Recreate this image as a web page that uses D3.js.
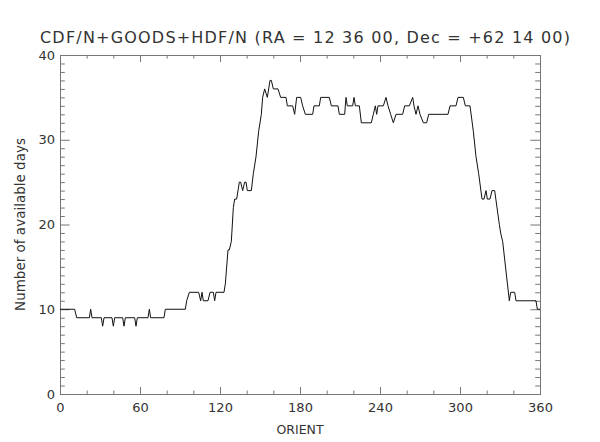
<!DOCTYPE html>
<html>
<head>
<meta charset="utf-8">
<script src="https://cdn.jsdelivr.net/npm/d3@7"></script>
<style>
  body { margin: 0; background: #fff; }
  text { font-family: "DejaVu Sans", sans-serif; fill: #333; }
</style>
</head>
<body>
<div id="chart"></div>
<script>
// data: orient (deg) vs number of available days
const orient = [0, 11, 12.5, 22, 23, 24, 31, 32, 33, 39, 40, 41, 47, 48, 49, 56, 57, 58, 66, 67, 68, 78, 79, 94, 95, 97,
  104, 105.5, 106.5, 107.5, 111, 112.5, 115, 116, 117, 123, 124, 126, 127, 128.5, 130, 131, 132.5, 134.5, 135.5, 137,
  138.5, 139.5, 140.5, 143.5, 145, 147, 149, 151, 152, 153.5, 155.5, 157.5, 158.5, 160, 163.5, 165.5, 169.5, 170.5,
  174.5, 176, 177.5, 180.5, 182, 184, 189.5, 190.5, 194.5, 195.5, 202, 203.5, 208.5, 209.5, 213.5, 214.5, 215.5, 219.5,
  220.5, 221.5, 224.5, 226, 233.5, 235, 236.5, 237.5, 238.5, 242.5, 244.5, 246, 248, 250, 252, 257, 258.5, 262, 264.5,
  265.5, 267, 268.5, 270, 272.5, 275, 276.5, 291, 292.5, 297, 298.5, 302.5, 304, 307.5, 310, 312, 314, 316.5, 318,
  319.5, 320.5, 322.5, 324, 326, 329.5, 330.5, 332, 337, 338, 341, 342, 357, 358, 360];
const days = [10, 10, 9, 9, 10, 9, 9, 8, 9, 9, 8, 9, 9, 8, 9, 9, 8, 9, 9, 10, 9, 9, 10, 10, 11, 12,
  12, 11, 12, 11, 11, 12, 12, 11, 12, 12, 13, 17, 17, 18, 22, 23, 23, 25, 25, 24,
  25, 25, 24, 24, 26, 28, 31, 33, 35, 36, 35, 37, 37, 36, 36, 35, 35, 34,
  34, 33, 35, 35, 34, 33, 33, 34, 34, 35, 35, 34, 34, 33, 33, 35, 34, 34,
  35, 34, 34, 32, 32, 33, 34, 33, 34, 34, 35, 34, 33, 32, 33, 33, 34, 34, 35,
  34, 33, 34, 33, 32, 32, 33, 33, 34, 34, 35, 35, 34, 34, 31, 28, 26, 23, 23,
  24, 23, 23, 24, 24, 20, 19, 18, 11, 12, 12, 11, 11, 10, 10];

const xMajor = [0, 60, 120, 180, 240, 300, 360];
const xMinor = [20, 40, 80, 100, 140, 160, 200, 220, 260, 280, 320, 340];
const yMajor = [0, 10, 20, 30, 40];
const yMinor = d3.range(0, 41).filter(d => d % 10 !== 0);

const title = "CDF/N+GOODS+HDF/N (RA = 12 36 00, Dec = +62 14 00)";

const svgWidth = 600, svgHeight = 442;
const plotLeft = 60, plotRight = 540, plotTop = 55, plotBottom = 394;

const svg = d3.select("#chart").append("svg")
  .attr("width", svgWidth)
  .attr("height", svgHeight);

const x = d3.scaleLinear().domain([0, 360]).range([plotLeft, plotRight]);
const y = d3.scaleLinear().domain([0, 40]).range([plotBottom, plotTop]);

const axisColor = "#777";
const xLen = 7, yLen = 9.6;

function styleAxis(g) {
  g.select(".domain").attr("stroke", axisColor);
  g.selectAll(".tick line").attr("stroke", axisColor);
  g.selectAll("text").attr("font-size", 13).attr("fill", "#333")
    .attr("font-family", '"DejaVu Sans", sans-serif');
}

// bottom axis
svg.append("g").attr("transform", `translate(0,${plotBottom})`)
  .call(d3.axisBottom(x).tickValues(xMajor).tickSizeInner(-xLen).tickSizeOuter(0).tickPadding(9))
  .call(styleAxis);
svg.append("g").attr("transform", `translate(0,${plotBottom})`)
  .call(d3.axisBottom(x).tickValues(xMinor).tickSize(-xLen / 2).tickFormat(""))
  .call(styleAxis);
// top axis
svg.append("g").attr("transform", `translate(0,${plotTop})`)
  .call(d3.axisTop(x).tickValues(xMajor).tickSizeInner(-xLen).tickSizeOuter(0).tickFormat(""))
  .call(styleAxis);
svg.append("g").attr("transform", `translate(0,${plotTop})`)
  .call(d3.axisTop(x).tickValues(xMinor).tickSize(-xLen / 2).tickFormat(""))
  .call(styleAxis);
// left axis
svg.append("g").attr("transform", `translate(${plotLeft},0)`)
  .call(d3.axisLeft(y).tickValues(yMajor).tickSizeInner(-yLen).tickSizeOuter(0).tickPadding(5))
  .call(styleAxis);
svg.append("g").attr("transform", `translate(${plotLeft},0)`)
  .call(d3.axisLeft(y).tickValues(yMinor).tickSize(-yLen / 2).tickFormat(""))
  .call(styleAxis);
// right axis
svg.append("g").attr("transform", `translate(${plotRight},0)`)
  .call(d3.axisRight(y).tickValues(yMajor).tickSizeInner(-yLen).tickSizeOuter(0).tickFormat(""))
  .call(styleAxis);
svg.append("g").attr("transform", `translate(${plotRight},0)`)
  .call(d3.axisRight(y).tickValues(yMinor).tickSize(-yLen / 2).tickFormat(""))
  .call(styleAxis);

// curve
const pts = orient.map((o, i) => [o, days[i]]);
svg.append("path")
  .datum(pts)
  .attr("fill", "none")
  .attr("stroke", "#111")
  .attr("stroke-width", 1)
  .attr("d", d3.line().x(d => x(d[0])).y(d => y(d[1])));

// titles
svg.append("text")
  .attr("x", 305).attr("y", 43)
  .attr("text-anchor", "middle")
  .attr("font-size", 16)
  .attr("textLength", 530)
  .text(title);

svg.append("text")
  .attr("x", 300).attr("y", 434)
  .attr("text-anchor", "middle")
  .attr("font-size", 12.5)
  .text("ORIENT");

svg.append("text")
  .attr("transform", `translate(25,${(plotTop + plotBottom) / 2}) rotate(-90)`)
  .attr("text-anchor", "middle")
  .attr("font-size", 13.5)
  .text("Number of available days");
</script>
</body>
</html>
